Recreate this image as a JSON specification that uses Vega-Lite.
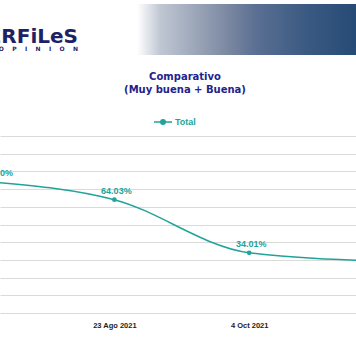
{
  "$schema": "https://vega.github.io/schema/vega-lite/v6.json",
  "width": 356,
  "height": 177,
  "autosize": {"type": "none"},
  "padding": {"left": 0, "top": 136, "right": 0, "bottom": 51},
  "background": "white",
  "config": {"view": {"stroke": null}, "font": "Liberation Sans"},
  "title": {
    "text": ["Comparativo", "(Muy buena + Buena)"],
    "anchor": "middle",
    "font": "DejaVu Sans",
    "fontSize": 10,
    "fontWeight": "bold",
    "color": "#23238c",
    "lineHeight": 12.5,
    "offset": -91,
    "dx": 7
  },
  "datasets": {
    "serie": [
      {"fecha": "2021-07-17", "valor": 0.738, "serie": "Total"},
      {"fecha": "2021-08-23", "valor": 0.6403, "serie": "Total"},
      {"fecha": "2021-10-04", "valor": 0.3401, "serie": "Total"},
      {"fecha": "2021-11-15", "valor": 0.293, "serie": "Total"}
    ]
  },
  "layer": [
    {
      "data": {"name": "serie"},
      "mark": {"type": "line", "interpolate": "monotone", "strokeWidth": 1.5, "clip": true},
      "encoding": {
        "x": {
          "field": "fecha",
          "type": "temporal",
          "scale": {"type": "utc", "domain": [1626597504000, 1636181856000]},
          "axis": {
            "title": null,
            "values": [1629676800000, 1633305600000],
            "tickCount": 10,
            "labelExpr": "utcFormat(datum.value, '%-d') + ' ' + ['Ene','Feb','Mar','Abr','May','Jun','Jul','Ago','Sep','Oct','Nov','Dic'][utcmonth(datum.value)] + ' ' + utcFormat(datum.value, '%Y')",
            "grid": false,
            "domain": false,
            "ticks": false,
            "tickSize": 0,
            "labelPadding": 8,
            "labelFont": "Liberation Sans",
            "labelFontSize": 7.5,
            "labelFontWeight": "bold",
            "labelColor": "#222222",
            "labelFlush": false,
            "labelOverlap": false
          }
        },
        "y": {
          "field": "valor",
          "type": "quantitative",
          "scale": {"domain": [0, 1], "nice": false, "zero": false},
          "axis": {
            "title": null,
            "labels": false,
            "ticks": false,
            "domain": false,
            "grid": true,
            "gridColor": "#dadada",
            "gridWidth": 1,
            "labelOverlap": false,
            "tickCount": 11,
            "values": [0, 0.1, 0.2, 0.3, 0.4, 0.5, 0.6, 0.7, 0.8, 0.9, 1]
          }
        },
        "color": {
          "field": "serie",
          "type": "nominal",
          "scale": {"range": ["#22a39a"]},
          "legend": {
            "title": null,
            "orient": "none",
            "legendX": 153,
            "legendY": -24,
            "direction": "horizontal",
            "symbolType": "M-1,0H1M-0.25,0A0.25,0.25,0,1,1,0.25,0A0.25,0.25,0,1,1,-0.25,0",
            "symbolSize": 324,
            "symbolStrokeWidth": 1.5,
            "symbolFillColor": "#22a39a",
            "labelFont": "Liberation Sans",
            "labelFontSize": 9,
            "labelFontWeight": "bold",
            "labelColor": "#22a39a",
            "labelOffset": 2
          }
        }
      }
    },
    {
      "data": {"name": "serie"},
      "mark": {"type": "point", "filled": true, "size": 22, "opacity": 1, "color": "#22a39a", "clip": true},
      "encoding": {
        "x": {"field": "fecha", "type": "temporal"},
        "y": {"field": "valor", "type": "quantitative"}
      }
    },
    {
      "data": {"name": "serie"},
      "mark": {"type": "text", "baseline": "bottom", "dy": -4, "dx": 2, "font": "Liberation Sans", "fontSize": 9, "fontWeight": "bold", "color": "#22a39a", "clip": true},
      "encoding": {
        "x": {"field": "fecha", "type": "temporal"},
        "y": {"field": "valor", "type": "quantitative"},
        "text": {"field": "valor", "type": "quantitative", "format": ".2%"}
      }
    },
    {
      "data": {"values": [{"franja": "encabezado"}]},
      "mark": {
        "type": "rect",
        "clip": false,
        "color": {
          "gradient": "linear",
          "x1": 0, "x2": 1, "y1": 0, "y2": 0,
          "stops": [
            {"offset": 0, "color": "#ffffff"},
            {"offset": 0.385, "color": "#ffffff"},
            {"offset": 0.45, "color": "#c0c7d3"},
            {"offset": 0.64, "color": "#7b88a1"},
            {"offset": 0.72, "color": "#5a6f93"},
            {"offset": 0.86, "color": "#3b5a82"},
            {"offset": 1, "color": "#264b76"}
          ]
        }
      },
      "encoding": {
        "y": {"datum": 1.746, "type": "quantitative"},
        "y2": {"datum": 1.458}
      }
    },
    {
      "data": {"values": [{"marca": "PERFiLeS"}]},
      "mark": {"type": "text", "align": "right", "baseline": "alphabetic", "font": "DejaVu Sans", "fontSize": 20, "fontWeight": "bold", "color": "#1c2266", "clip": false},
      "encoding": {
        "x": {"datum": 1628697464000, "type": "temporal"},
        "y": {"datum": 1.525, "type": "quantitative"},
        "text": {"field": "marca"}
      }
    },
    {
      "data": {"values": [{"marca": "O\u00a0\u00a0\u00a0\u00a0P\u00a0\u00a0\u00a0\u00a0I\u00a0\u00a0\u00a0\u00a0N\u00a0\u00a0\u00a0\u00a0I\u00a0\u00a0\u00a0\u00a0O\u00a0\u00a0\u00a0\u00a0N"}]},
      "mark": {"type": "text", "align": "right", "baseline": "alphabetic", "font": "DejaVu Sans", "fontSize": 6, "fontWeight": "bold", "color": "#1c2266", "clip": false},
      "encoding": {
        "x": {"datum": 1628697464000, "type": "temporal"},
        "y": {"datum": 1.478, "type": "quantitative"},
        "text": {"field": "marca"}
      }
    }
  ]
}
